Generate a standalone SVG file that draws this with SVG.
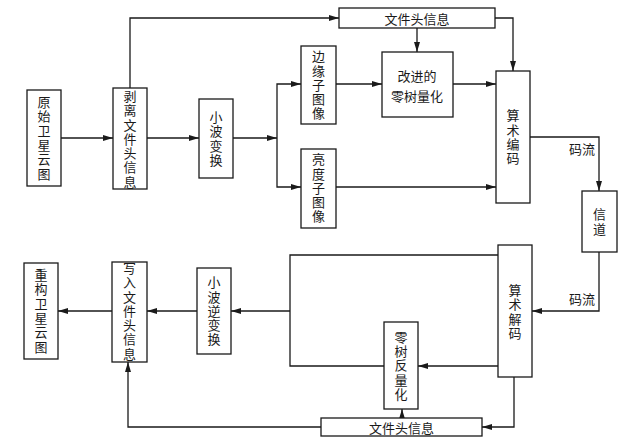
<svg xmlns="http://www.w3.org/2000/svg" width="625" height="445" viewBox="0 0 625 445">
<defs>
<style>
.box{fill:#fff;stroke:#1a1a1a;stroke-width:1.3}
.ln{fill:none;stroke:#1a1a1a;stroke-width:1.3}
.t{font-family:"Noto Sans CJK SC","Noto Sans CJK JP",sans-serif;font-size:13px;fill:#1a1a1a;text-anchor:middle;dominant-baseline:central}
.v{font-family:"Noto Sans CJK SC","Noto Sans CJK JP",sans-serif;font-size:13px;fill:#1a1a1a;text-anchor:middle;writing-mode:vertical-rl;text-orientation:upright;letter-spacing:1.3px}
</style>
<marker id="ah" viewBox="0 0 10 6" refX="10" refY="3" markerWidth="10" markerHeight="6" markerUnits="userSpaceOnUse" orient="auto">
<path d="M0,0 L10,3 L0,6 Z" fill="#1a1a1a"/>
</marker>
</defs>
<rect width="625" height="445" fill="#fff"/>
<g id="connectors">
<path class="ln" d="M61,138 H113" marker-end="url(#ah)"/>
<path class="ln" d="M147,138 H199" marker-end="url(#ah)"/>
<path class="ln" d="M233,138 H277" marker-end="url(#ah)"/>
<path class="ln" d="M277,138 V84 H301" marker-end="url(#ah)"/>
<path class="ln" d="M277,138 V187 H301" marker-end="url(#ah)"/>
<path class="ln" d="M130,88 V18 H339" marker-end="url(#ah)"/>
<path class="ln" d="M417,28 V52" marker-end="url(#ah)"/>
<path class="ln" d="M495,18 H513 V71" marker-end="url(#ah)"/>
<path class="ln" d="M336,84 H382" marker-end="url(#ah)"/>
<path class="ln" d="M453,84 H496" marker-end="url(#ah)"/>
<path class="ln" d="M336,187 H496" marker-end="url(#ah)"/>
<path class="ln" d="M530,137 H599 V191" marker-end="url(#ah)"/>
<path class="ln" d="M599,252 V311 H532" marker-end="url(#ah)"/>
<path class="ln" d="M498,366 H418" marker-end="url(#ah)"/>
<path class="ln" d="M514,377 V427 H482" marker-end="url(#ah)"/>
<path class="ln" d="M402,418 V409" marker-end="url(#ah)"/>
<path class="ln" d="M321,427 H128 V362" marker-end="url(#ah)"/>
<path class="ln" d="M498,255 H290 V366 H384"/>
<path class="ln" d="M290,311 H231" marker-end="url(#ah)"/>
<path class="ln" d="M197,311 H147" marker-end="url(#ah)"/>
<path class="ln" d="M112,311 H58" marker-end="url(#ah)"/>
<text class="t" x="582" y="148">码流</text>
<text class="t" x="582" y="298">码流</text>
</g>
<g id="n-original">
<rect class="box" x="27" y="90" width="34" height="96"/>
<text class="v" x="44" y="138.6">原始卫星云图</text>
</g>
<g id="n-strip">
<rect class="box" x="113" y="88" width="34" height="101"/>
<text class="v" x="130" y="139.6">剥离文件头信息</text>
</g>
<g id="n-wavelet">
<rect class="box" x="199" y="99" width="34" height="79"/>
<text class="v" x="216" y="139.1">小波变换</text>
</g>
<g id="n-edge">
<rect class="box" x="301" y="46" width="35" height="78"/>
<text class="v" x="318.5" y="85.6">边缘子图像</text>
</g>
<g id="n-bright">
<rect class="box" x="301" y="149" width="35" height="79"/>
<text class="v" x="318.5" y="188.6">亮度子图像</text>
</g>
<g id="n-header-top">
<rect class="box" x="339" y="8" width="156" height="20"/>
<text class="t" x="417" y="18">文件头信息</text>
</g>
<g id="n-zerotree">
<rect class="box" x="382" y="52" width="71" height="65"/>
<text class="t" x="417" y="75">改进的</text>
<text class="t" x="417" y="95">零树量化</text>
</g>
<g id="n-arith-enc">
<rect class="box" x="496" y="71" width="34" height="132"/>
<text class="v" x="513" y="137.6">算术编码</text>
</g>
<g id="n-channel">
<rect class="box" x="582" y="191" width="35" height="61"/>
<text class="v" x="599.5" y="222.1">信道</text>
</g>
<g id="n-arith-dec">
<rect class="box" x="498" y="245" width="34" height="132"/>
<text class="v" x="515" y="312.1">算术解码</text>
</g>
<g id="n-dequant">
<rect class="box" x="384" y="322" width="34" height="87"/>
<text class="v" x="401" y="366.1">零树反量化</text>
</g>
<g id="n-header-bottom">
<rect class="box" x="321" y="418" width="161" height="18"/>
<text class="t" x="401.5" y="427.5">文件头信息</text>
</g>
<g id="n-iwavelet">
<rect class="box" x="197" y="268" width="34" height="86"/>
<text class="v" x="214" y="311.6">小波逆变换</text>
</g>
<g id="n-write">
<rect class="box" x="112" y="262" width="35" height="100"/>
<text class="v" x="129.5" y="311.6">写入文件头信息</text>
</g>
<g id="n-recon">
<rect class="box" x="24" y="263" width="34" height="96"/>
<text class="v" x="41" y="311.6">重构卫星云图</text>
</g>
</svg>
